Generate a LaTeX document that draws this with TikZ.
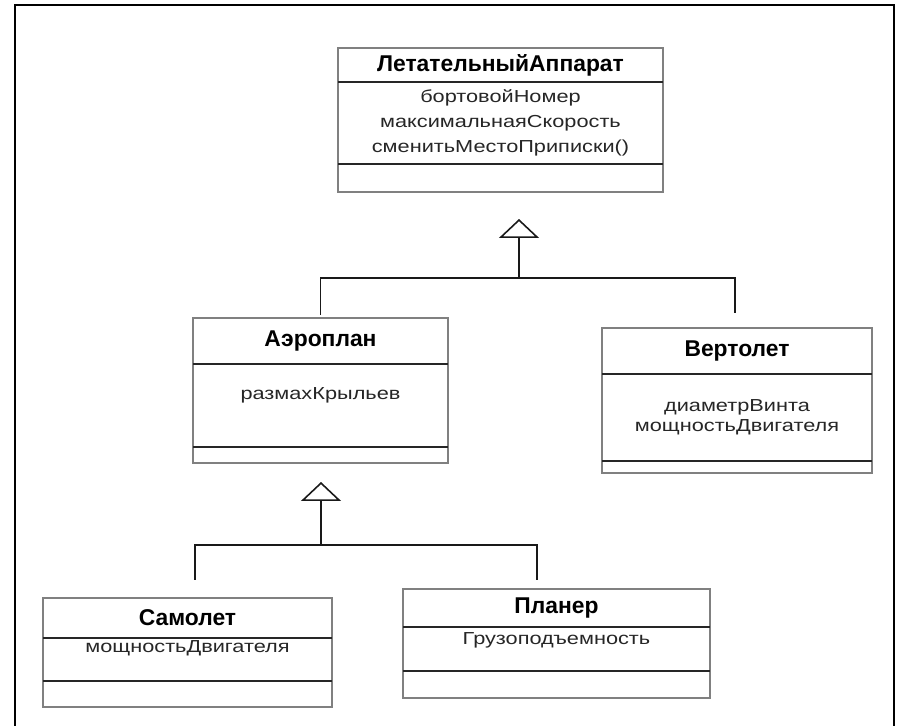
\documentclass[tikz,border=0pt]{standalone}
\usepackage{fontspec}
\setmainfont{Liberation Sans}
\newfontfamily\attrfamily{Liberation Sans}[FakeStretch=1.25]
\newcommand{\namefont}{\fontsize{13}{15}\selectfont\bfseries}
\newcommand{\attrfont}{\attrfamily\fontsize{9.9}{14.2}\selectfont}
\usetikzlibrary{arrows.meta, positioning}

\begin{document}
\begin{tikzpicture}[x=0.02cm, y=-0.02cm]
    \tikzset{
        outerframe/.style={line width=1.2pt},
        classbox/.style={rectangle, draw=black!50, line width=0.8pt, outer sep=0pt, inner sep=0pt},
        classname/.style={classbox, font=\namefont},
        classattr/.style={classbox, font=\attrfont, align=center, text=black!85},
        divider/.style={draw=black!85, line width=0.9pt},
        link/.style={draw=black!90, line width=0.9pt},
        isa/.style={link, -{Triangle[open, length=0.38cm, width=0.8cm]}},
    }
    \useasboundingbox (0,0) rectangle (899,726);
    % Sheet frame (open at the bottom)
    \draw[outerframe] (15,726) |- (894,5) -- (894,726);

    % Base class
    \node[classname, minimum width=6.5cm, minimum height=0.68cm, anchor=north west] (la-head) at (338,48) {ЛетательныйАппарат};
    \node[classattr, minimum width=6.5cm, minimum height=1.64cm, below=0pt of la-head] (la-attr) {бортовойНомер\\максимальнаяСкорость\\сменитьМестоПриписки()};
    \node[classbox, minimum width=6.5cm, minimum height=0.56cm, below=0pt of la-attr] (la-op) {};

    % Aeroplane
    \node[classname, minimum width=5.1cm, minimum height=0.92cm, anchor=north west] (aero-head) at (193,318) {Аэроплан};
    \node[classattr, minimum width=5.1cm, minimum height=1.66cm, text depth=0.49cm, below=0pt of aero-head] (aero-attr) {размахКрыльев};
    \node[classbox, minimum width=5.1cm, minimum height=0.32cm, below=0pt of aero-attr] (aero-op) {};

    % Helicopter
    \node[classname, minimum width=5.4cm, minimum height=0.92cm, anchor=north west] (heli-head) at (602,328) {Вертолет};
    \node[classattr, minimum width=5.4cm, minimum height=1.74cm, below=0pt of heli-head] (heli-attr) {диаметрВинта\\[-2.8pt]мощностьДвигателя};
    \node[classbox, minimum width=5.4cm, minimum height=0.24cm, below=0pt of heli-attr] (heli-op) {};

    % Plane
    \node[classname, minimum width=5.78cm, minimum height=0.8cm, anchor=north west] (plane-head) at (43,598) {Самолет};
    \node[classattr, minimum width=5.78cm, minimum height=0.86cm, text depth=0.53cm, below=0pt of plane-head] (plane-attr) {мощностьДвигателя};
    \node[classbox, minimum width=5.78cm, minimum height=0.52cm, below=0pt of plane-attr] (plane-op) {};

    % Glider
    \node[classname, minimum width=6.14cm, minimum height=0.76cm, anchor=north west] (glider-head) at (403,589) {Планер};
    \node[classattr, minimum width=6.14cm, minimum height=0.88cm, text depth=0.43cm, below=0pt of glider-head] (glider-attr) {Грузоподъемность};
    \node[classbox, minimum width=6.14cm, minimum height=0.54cm, below=0pt of glider-attr] (glider-op) {};

    % Compartment dividers
    \draw[divider] (la-attr.north west) -- (la-attr.north east);
    \draw[divider] (la-op.north west) -- (la-op.north east);
    \draw[divider] (aero-attr.north west) -- (aero-attr.north east);
    \draw[divider] (aero-op.north west) -- (aero-op.north east);
    \draw[divider] (heli-attr.north west) -- (heli-attr.north east);
    \draw[divider] (heli-op.north west) -- (heli-op.north east);
    \draw[divider] (plane-attr.north west) -- (plane-attr.north east);
    \draw[divider] (plane-op.north west) -- (plane-op.north east);
    \draw[divider] (glider-attr.north west) -- (glider-attr.north east);
    \draw[divider] (glider-op.north west) -- (glider-op.north east);

    % Inheritance: aircraft
    \coordinate (la-tip) at (519,219);
    \coordinate (la-hub) at (519,278);
    \draw[isa] (la-hub) -- (la-tip);
    \draw[link] (la-hub) -| ([yshift=0.06cm]aero-head.north);
    \draw[link] (la-hub) -| ([xshift=-0.04cm, yshift=0.3cm]heli-head.north);

    % Inheritance: aeroplane
    \coordinate (aero-tip) at (321,482);
    \coordinate (aero-hub) at (321,545);
    \draw[isa] (aero-hub) -- (aero-tip);
    \draw[link] (aero-hub) -| ([xshift=0.15cm, yshift=0.36cm]plane-head.north);
    \draw[link] (aero-hub) -| ([xshift=-0.39cm, yshift=0.18cm]glider-head.north);
\end{tikzpicture}
\end{document}
